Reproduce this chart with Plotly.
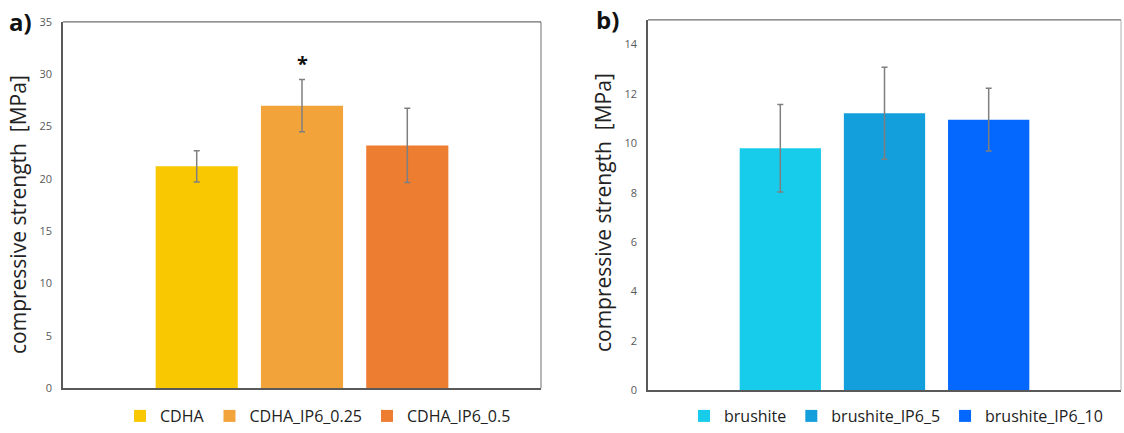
import plotly.graph_objects as go

# ---- data ----
cats_a = ["CDHA", "CDHA_IP6_0.25", "CDHA_IP6_0.5"]
vals_a = [21.2, 27.0, 23.2]
err_a = [1.5, 2.5, 3.55]
colors_a = ["#F9C800", "#F2A33A", "#ED7D31"]

cats_b = ["brushite", "brushite_IP6_5", "brushite_IP6_10"]
vals_b = [9.8, 11.22, 10.96]
err_b = [1.77, 1.86, 1.27]
colors_b = ["#17CCEA", "#139FDC", "#0468FF"]

ticks_a = [0, 5, 10, 15, 20, 25, 30, 35]
ticks_b = [0, 2, 4, 6, 8, 10, 12, 14]

W, H = 1124, 433
FONT = "Open Sans"

def fx(px):
    return px / W

def fy(py):
    return 1 - py / H

fig = go.Figure()

for c, v, e, col in zip(cats_a, vals_a, err_a, colors_a):
    fig.add_trace(go.Bar(
        x=[c], y=[v], name=c, width=0.78, marker_color=col, marker_line_width=0,
        error_y=dict(type="data", array=[e], color="#7f7f7f", thickness=1.5, width=3),
        xaxis="x", yaxis="y", legend="legend",
    ))
for c, v, e, col in zip(cats_b, vals_b, err_b, colors_b):
    fig.add_trace(go.Bar(
        x=[c], y=[v], name=c, width=0.78, marker_color=col, marker_line_width=0,
        error_y=dict(type="data", array=[e], color="#7f7f7f", thickness=1.5, width=3),
        xaxis="x2", yaxis="y2", legend="legend2",
    ))

axis_common = dict(showgrid=False, zeroline=False, ticks="", automargin=False)

fig.update_layout(
    width=W, height=H,
    margin=dict(l=0, r=0, t=0, b=0),
    paper_bgcolor="white", plot_bgcolor="white",
    barmode="overlay",
    font=dict(family=FONT, color="#222"),
    xaxis=dict(domain=[fx(63), fx(541)], type="category", range=[-1.27, 3.27],
               showticklabels=False, showline=True, linecolor="#595959", linewidth=1.5,
               anchor="y", **axis_common),
    yaxis=dict(domain=[fy(390), fy(22)], range=[0, 35], tickvals=ticks_a,
               tickfont=dict(size=11, color="#595959"), showline=True,
               linecolor="#595959", linewidth=1.5, anchor="x", ticklabelstandoff=7,
               **axis_common),
    xaxis2=dict(domain=[fx(648), fx(1121)], type="category", range=[-1.27, 3.27],
                showticklabels=False, showline=True, linecolor="#595959", linewidth=1.5,
                anchor="y2", **axis_common),
    yaxis2=dict(domain=[fy(392), fy(20)], range=[0, 15], tickvals=ticks_b,
                tickfont=dict(size=11, color="#595959"), showline=True,
                linecolor="#595959", linewidth=1.5, anchor="x2", ticklabelstandoff=7,
                **axis_common),
    legend=dict(orientation="h", x=fx(318), xanchor="center", y=fy(418), yanchor="middle",
                font=dict(size=16, color="#222", family=FONT), itemwidth=30,
                bgcolor="rgba(0,0,0,0)"),
    legend2=dict(orientation="h", x=fx(896), xanchor="center", y=fy(418), yanchor="middle",
                 font=dict(size=16, color="#222", family=FONT), itemwidth=30,
                 bgcolor="rgba(0,0,0,0)"),
    showlegend=True,
)

# top/right frame lines
for xr, yr in [("x domain", "y domain"), ("x2 domain", "y2 domain")]:
    fig.add_shape(type="line", xref=xr, yref=yr, x0=0, x1=1, y0=1, y1=1,
                  line=dict(color="#6f6f6f", width=1.2))
    fig.add_shape(type="line", xref=xr, yref=yr, x0=1, x1=1, y0=0, y1=1,
                  line=dict(color="#b0b0b0" if xr.startswith("x2") else "#6f6f6f", width=1))

ann = [
    dict(text="compressive strength  [MPa]", x=fx(18), y=fy(216), xref="paper", yref="paper",
         xanchor="center", yanchor="middle",
         textangle=-90, showarrow=False, font=dict(size=21, color="#222", family=FONT)),
    dict(text="compressive strength  [MPa]", x=fx(603), y=fy(214), xref="paper", yref="paper",
         xanchor="center", yanchor="middle",
         textangle=-90, showarrow=False, font=dict(size=21, color="#222", family=FONT)),
    dict(text="<b>a)</b>", x=fx(20), y=fy(22), xref="paper", yref="paper", showarrow=False,
         xanchor="center", yanchor="middle", font=dict(size=24, color="#111", family=FONT)),
    dict(text="<b>b)</b>", x=fx(607), y=fy(20), xref="paper", yref="paper", showarrow=False,
         xanchor="center", yanchor="middle", font=dict(size=24, color="#111", family=FONT)),
    dict(text="<b>*</b>", x=cats_a[1], y=31.0, xref="x", yref="y", showarrow=False,
         yanchor="middle", font=dict(size=20, color="#111", family=FONT)),
]
fig.update_layout(annotations=ann)

fig.write_html("out.html", config={"displayModeBar": False},
               post_script="document.body.style.margin='0';document.body.style.padding='0';")
